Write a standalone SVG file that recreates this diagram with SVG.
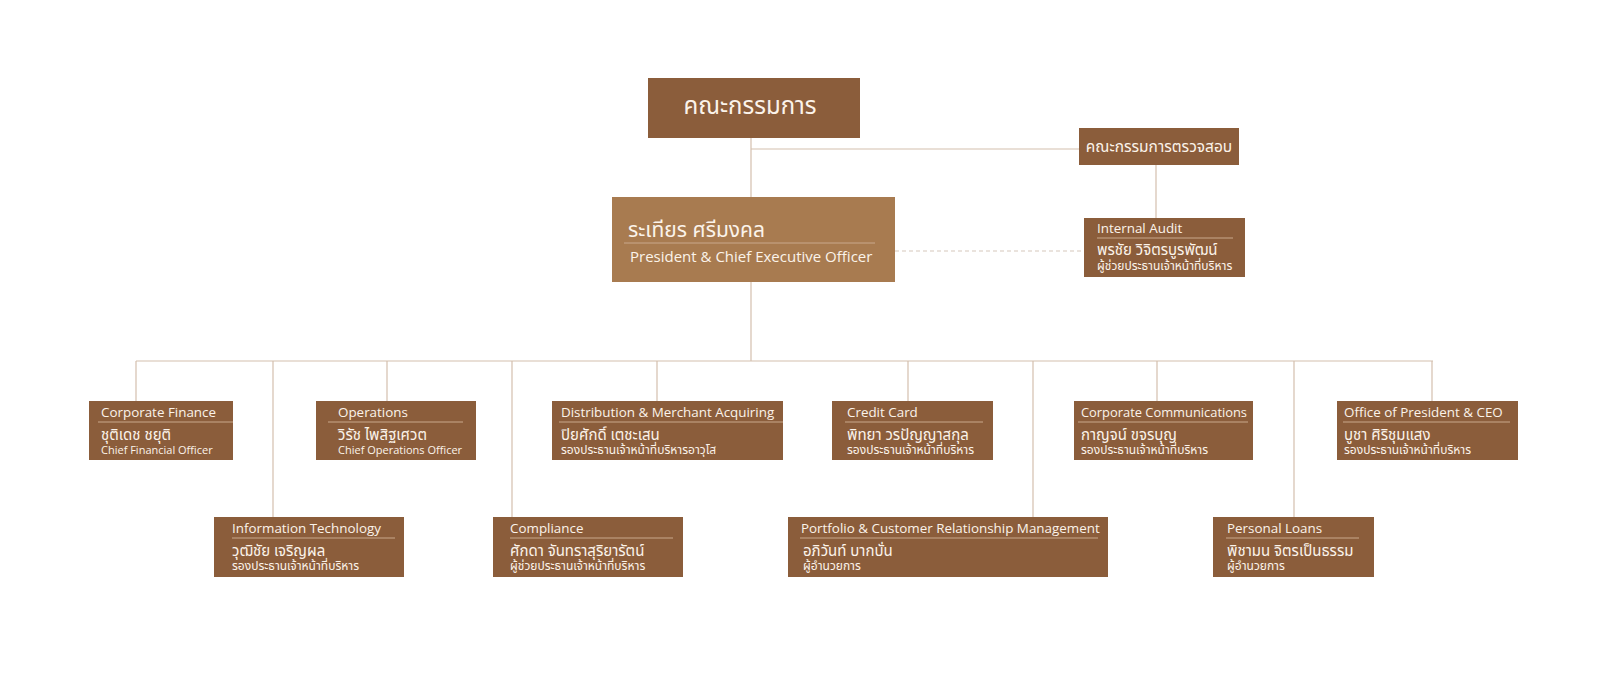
<svg xmlns="http://www.w3.org/2000/svg" width="1608" height="684" viewBox="0 0 1608 684">
<style>
.bg{fill:#ffffff}
.box{fill:#8B5D3B}
.ceo{fill:#A87B50}
.ln{stroke:#D4BFAD;stroke-width:1.2;fill:none}
.dash{stroke:#D6C8BC;stroke-width:1.2;stroke-dasharray:4 3;fill:none}
.sep{stroke:#C9A98C;stroke-width:1}
text{font-family:"Open Sans","Noto Sans Thai","Noto Sans",sans-serif;fill:#FBF3EA}
.h{font-size:13.4px}
.n{font-size:15px}
.t{font-size:11px}
.tt{font-size:12px}
.big{font-size:24px}
.mid{font-size:15.5px}
</style>
<rect class="bg" x="0" y="0" width="1608" height="684"/>
<g id="connectors">
<line class="ln" x1="751" y1="138" x2="751" y2="361"/>
<line class="ln" x1="751" y1="149" x2="1079" y2="149"/>
<line class="ln" x1="1156" y1="165" x2="1156" y2="218"/>
<line class="dash" x1="895" y1="251" x2="1084" y2="251"/>
<line class="ln" x1="136" y1="361" x2="1433" y2="361"/>
<line class="ln" x1="136" y1="361" x2="136" y2="401"/>
<line class="ln" x1="387" y1="361" x2="387" y2="401"/>
<line class="ln" x1="657" y1="361" x2="657" y2="401"/>
<line class="ln" x1="908" y1="361" x2="908" y2="401"/>
<line class="ln" x1="1157" y1="361" x2="1157" y2="401"/>
<line class="ln" x1="1432" y1="361" x2="1432" y2="401"/>
<line class="ln" x1="273" y1="361" x2="273" y2="517"/>
<line class="ln" x1="512" y1="361" x2="512" y2="517"/>
<line class="ln" x1="1033" y1="361" x2="1033" y2="517"/>
<line class="ln" x1="1294" y1="361" x2="1294" y2="517"/>
</g>
<g id="board">
<rect class="box" x="648" y="78" width="212" height="60"/>
<text class="big" x="750" y="114" text-anchor="middle">คณะกรรมการ</text>
</g>
<g id="audit-committee">
<rect class="box" x="1079" y="128" width="160" height="37"/>
<text class="mid" x="1159" y="152" text-anchor="middle">คณะกรรมการตรวจสอบ</text>
</g>
<g id="ceo">
<rect class="ceo" x="612" y="197" width="283" height="85"/>
<text x="628" y="237" style="font-size:21px">ระเทียร ศรีมงคล</text>
<line class="sep" x1="624" y1="243" x2="875" y2="243"/>
<text x="630" y="262" style="font-size:15px">President &amp; Chief Executive Officer</text>
</g>
<g id="internal-audit">
<rect class="box" x="1084" y="218" width="161" height="59"/>
<text class="h" x="1097" y="233">Internal Audit</text>
<line class="sep" x1="1097" y1="238" x2="1233" y2="238"/>
<text class="n" x="1097" y="255">พรชัย วิจิตรบูรพัฒน์</text>
<text class="tt" x="1097" y="270">ผู้ช่วยประธานเจ้าหน้าที่บริหาร</text>
</g>
<g id="corporate-finance">
<rect class="box" x="89" y="401" width="144" height="59"/>
<text class="h" x="101" y="417">Corporate Finance</text>
<line class="sep" x1="98" y1="422" x2="233" y2="422"/>
<text class="n" x="101" y="440">ชุติเดช ชยุติ</text>
<text class="t" x="101" y="454">Chief Financial Officer</text>
</g>
<g id="operations">
<rect class="box" x="316" y="401" width="160" height="59"/>
<text class="h" x="338" y="417">Operations</text>
<line class="sep" x1="328" y1="422" x2="463" y2="422"/>
<text class="n" x="338" y="440">วิรัช ไพสิฐเศวต</text>
<text class="t" x="338" y="454">Chief Operations Officer</text>
</g>
<g id="distribution">
<rect class="box" x="552" y="401" width="231" height="59"/>
<text class="h" x="561" y="417">Distribution &amp; Merchant Acquiring</text>
<line class="sep" x1="559" y1="422" x2="783" y2="422"/>
<text class="n" x="561" y="440">ปิยศักดิ์ เตชะเสน</text>
<text class="tt" x="561" y="454">รองประธานเจ้าหน้าที่บริหารอาวุโส</text>
</g>
<g id="credit-card">
<rect class="box" x="832" y="401" width="161" height="59"/>
<text class="h" x="847" y="417">Credit Card</text>
<line class="sep" x1="845" y1="422" x2="983" y2="422"/>
<text class="n" x="847" y="440">พิทยา วรปัญญาสกุล</text>
<text class="tt" x="847" y="454">รองประธานเจ้าหน้าที่บริหาร</text>
</g>
<g id="corporate-communications">
<rect class="box" x="1074" y="401" width="179" height="59"/>
<text class="h" x="1081" y="417" textLength="166" lengthAdjust="spacingAndGlyphs">Corporate Communications</text>
<line class="sep" x1="1078" y1="422" x2="1248" y2="422"/>
<text class="n" x="1081" y="440">กาญจน์ ขจรบุญ</text>
<text class="tt" x="1081" y="454">รองประธานเจ้าหน้าที่บริหาร</text>
</g>
<g id="office-president">
<rect class="box" x="1337" y="401" width="181" height="59"/>
<text class="h" x="1344" y="417">Office of President &amp; CEO</text>
<line class="sep" x1="1343" y1="422" x2="1510" y2="422"/>
<text class="n" x="1344" y="440">บูชา ศิริชุมแสง</text>
<text class="tt" x="1344" y="454">รองประธานเจ้าหน้าที่บริหาร</text>
</g>
<g id="information-technology">
<rect class="box" x="214" y="517" width="190" height="60"/>
<text class="h" x="232" y="533">Information Technology</text>
<line class="sep" x1="232" y1="538" x2="395" y2="538"/>
<text class="n" x="232" y="556">วุฒิชัย เจริญผล</text>
<text class="tt" x="232" y="570">รองประธานเจ้าหน้าที่บริหาร</text>
</g>
<g id="compliance">
<rect class="box" x="493" y="517" width="190" height="60"/>
<text class="h" x="510" y="533">Compliance</text>
<line class="sep" x1="510" y1="538" x2="673" y2="538"/>
<text class="n" x="510" y="556">ศักดา จันทราสุริยารัตน์</text>
<text class="tt" x="510" y="570">ผู้ช่วยประธานเจ้าหน้าที่บริหาร</text>
</g>
<g id="portfolio-crm">
<rect class="box" x="788" y="517" width="320" height="60"/>
<text class="h" x="801" y="533">Portfolio &amp; Customer Relationship Management</text>
<line class="sep" x1="800" y1="538" x2="1098" y2="538"/>
<text class="n" x="803" y="556">อภิวันท์ บากบั่น</text>
<text class="tt" x="803" y="570">ผู้อำนวยการ</text>
</g>
<g id="personal-loans">
<rect class="box" x="1213" y="517" width="161" height="60"/>
<text class="h" x="1227" y="533">Personal Loans</text>
<line class="sep" x1="1226" y1="538" x2="1359" y2="538"/>
<text class="n" x="1227" y="556">พิชามน จิตรเป็นธรรม</text>
<text class="tt" x="1227" y="570">ผู้อำนวยการ</text>
</g>
</svg>
